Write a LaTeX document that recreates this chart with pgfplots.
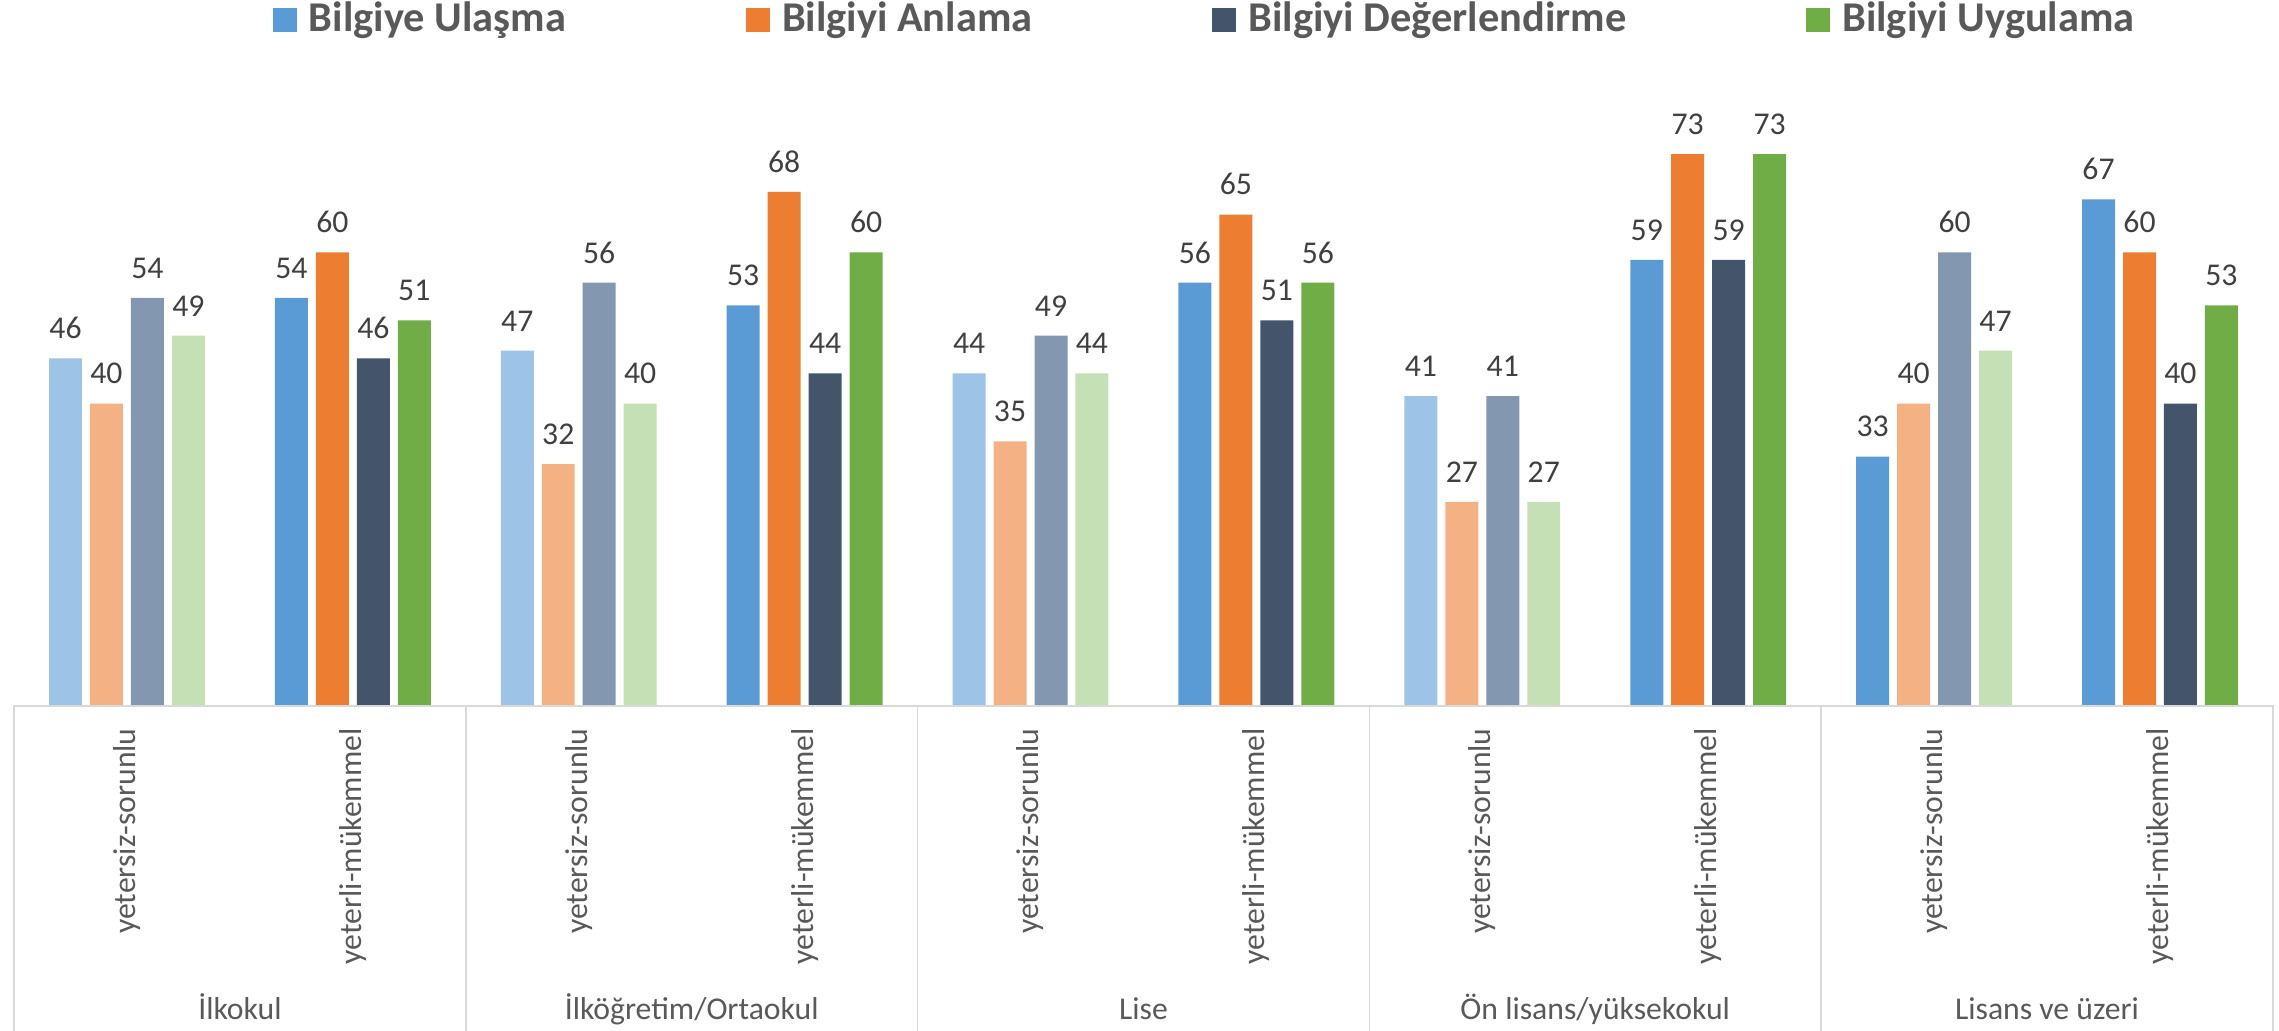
\documentclass[border=0pt]{standalone}
\usepackage{pgfplots}
\pgfplotsset{compat=1.18}
\usepackage{fontspec}
\setmainfont{Carlito}
\definecolor{cA}{HTML}{5B9BD5}
\definecolor{cB}{HTML}{ED7D31}
\definecolor{cC}{HTML}{44546A}
\definecolor{cD}{HTML}{70AD47}
\definecolor{lA}{HTML}{9DC3E6}
\definecolor{lB}{HTML}{F4B183}
\definecolor{lC}{HTML}{8497B0}
\definecolor{lD}{HTML}{C5E0B4}
\definecolor{txtA}{HTML}{404040}
\definecolor{txtB}{HTML}{595959}
\definecolor{sepc}{HTML}{D9D9D9}
\newcommand\lbl{\fontsize{15.85}{19}\selectfont}
\newcommand\leg{\fontsize{21.2}{25}\selectfont\bfseries}
\begin{document}
\begin{tikzpicture}
\useasboundingbox (0,0) rectangle (1139.5pt,515pt);
\begin{axis}[
  at={(7pt,162pt)}, anchor=south west, scale only axis,
  width=1129.5pt, height=302.4pt,
  xmin=-0.5, xmax=9.5, ymin=0, ymax=80, clip=false,
  axis line style={draw=none}, ytick=\empty,
  xtick={0,...,9},
  xticklabels={yetersiz-sorunlu,yeterli-mükemmel,yetersiz-sorunlu,yeterli-mükemmel,yetersiz-sorunlu,yeterli-mükemmel,yetersiz-sorunlu,yeterli-mükemmel,yetersiz-sorunlu,yeterli-mükemmel},
  major tick length=0pt,
  xticklabel style={rotate=90, anchor=east, inner sep=0pt, font=\lbl, text=txtB},
  xticklabel shift=11pt,
  ybar, bar width=0.146,
  nodes near coords,
  every node near coord/.append style={font=\lbl, text=txtA, anchor=south, inner sep=0pt, yshift=9.5pt},
  /pgf/number format/assume math mode=true,
  legend columns=4,
  legend cell align=left,
  legend style={at={(0.11465,1.138)}, anchor=west, draw=none, fill=none,
    inner sep=0pt, outer sep=0pt, font=\leg, text=txtB,
    /tikz/every odd column/.append style={column sep=6pt},
    /tikz/every even column/.append style={column sep=90pt},
    nodes={inner sep=0pt}},
  legend image code/.code={\fill[#1,draw=none] (0pt,-7pt) rectangle (12pt,5pt);},
]
\addplot[fill=cA, draw=none, bar shift=-0.272] coordinates {(1,54) (3,53) (5,56) (7,59) (8,33) (9,67)};
\addlegendentry{Bilgiye Ulaşma}
\addplot[fill=cB, draw=none, bar shift=-0.0907] coordinates {(1,60) (3,68) (5,65) (7,73) (9,60)};
\addlegendentry{Bilgiyi Anlama}
\addplot[fill=cC, draw=none, bar shift=0.0907] coordinates {(1,46) (3,44) (5,51) (7,59) (9,40)};
\addlegendentry{Bilgiyi Değerlendirme}
\addplot[fill=cD, draw=none, bar shift=0.272] coordinates {(1,51) (3,60) (5,56) (7,73) (9,53)};
\addlegendentry{Bilgiyi Uygulama}
\addplot[fill=lA, draw=none, bar shift=-0.272, forget plot] coordinates {(0,46) (2,47) (4,44) (6,41)};
\addplot[fill=lB, draw=none, bar shift=-0.0907, forget plot] coordinates {(0,40) (2,32) (4,35) (6,27) (8,40)};
\addplot[fill=lC, draw=none, bar shift=0.0907, forget plot] coordinates {(0,54) (2,56) (4,49) (6,41) (8,60)};
\addplot[fill=lD, draw=none, bar shift=0.272, forget plot] coordinates {(0,49) (2,40) (4,44) (6,27) (8,47)};
\draw[sepc, line width=0.75pt] (axis cs:-0.5,-45) -- (axis cs:-0.5,0) -- (axis cs:9.5,0) -- (axis cs:9.5,-45);
\draw[sepc, line width=0.75pt] (axis cs:1.5,-45) -- (axis cs:1.5,0);
\draw[sepc, line width=0.75pt] (axis cs:3.5,-45) -- (axis cs:3.5,0);
\draw[sepc, line width=0.75pt] (axis cs:5.5,-45) -- (axis cs:5.5,0);
\draw[sepc, line width=0.75pt] (axis cs:7.5,-45) -- (axis cs:7.5,0);
\node[font=\lbl, text=txtB, anchor=base] at (axis cs:0.5,-41.5) {İlkokul};
\node[font=\lbl, text=txtB, anchor=base] at (axis cs:2.5,-41.5) {İlköğretim/Ortaokul};
\node[font=\lbl, text=txtB, anchor=base] at (axis cs:4.5,-41.5) {Lise};
\node[font=\lbl, text=txtB, anchor=base] at (axis cs:6.5,-41.5) {Ön lisans/yüksekokul};
\node[font=\lbl, text=txtB, anchor=base] at (axis cs:8.5,-41.5) {Lisans ve üzeri};
\end{axis}
\end{tikzpicture}
\end{document}
